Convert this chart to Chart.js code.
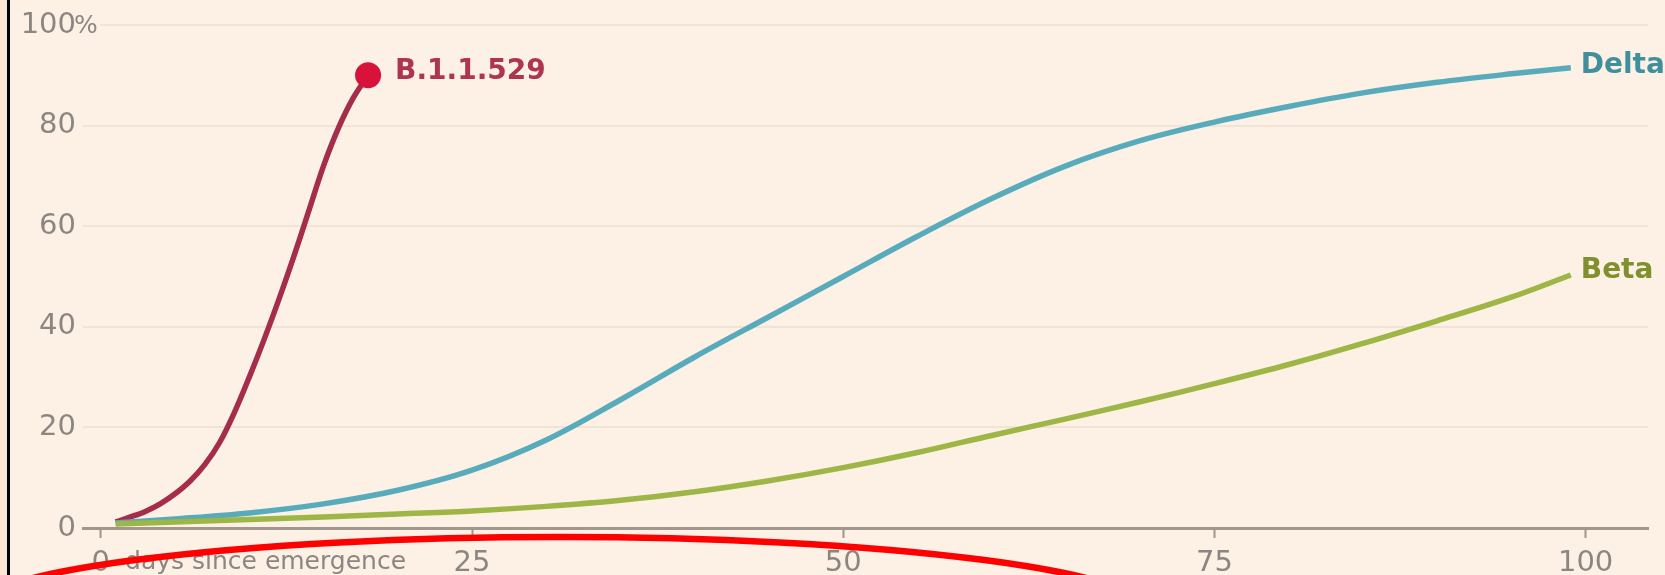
<!DOCTYPE html>
<html>
<head>
<meta charset="utf-8">
<script src="https://cdn.jsdelivr.net/npm/chart.js@4.4.1/dist/chart.umd.min.js"></script>
<style>
  html, body { margin: 0; padding: 0; background: #fbe4d4; }
  #frame {
    position: absolute; left: 7px; top: 0; width: 1658px; height: 575px;
    background: #fdf1e6; border-left: 3px solid #000; box-sizing: border-box;
  }
  #wrap { position: absolute; left: 0; top: 0; width: 1665px; height: 575px; }
</style>
</head>
<body>
<div id="frame"></div>
<div id="wrap"><canvas id="variantChart"></canvas></div>
<script>
// share of sequenced cases (%) by days since emergence
var b11529Days = [1, 2, 3, 4, 5, 6, 7, 8, 9, 10, 11, 12, 13, 14, 15, 16, 17, 18];
var b11529Share = [1.2, 2.2, 3.3, 4.8, 6.8, 9.3, 12.6, 17, 23, 30, 37.5, 45.5, 54, 63, 72, 79.5, 85.5, 90];

var deltaDays = [1, 5, 10, 15, 20, 25, 30, 35, 40, 45, 50, 55, 60, 65, 70, 75, 80, 85, 90, 95, 99];
var deltaShare = [1.0, 1.8, 3.0, 4.8, 7.5, 11.5, 17.5, 25.5, 34, 42, 50, 58, 65.5, 72, 77, 80.7, 83.8, 86.5, 88.6, 90.3, 91.5];

var betaDays = [1, 5, 10, 15, 20, 25, 30, 35, 40, 45, 50, 55, 60, 65, 70, 75, 80, 85, 90, 95, 99];
var betaShare = [0.8, 1.2, 1.7, 2.2, 2.8, 3.4, 4.3, 5.5, 7.2, 9.4, 12, 15, 18.4, 21.7, 25.1, 28.7, 32.5, 36.7, 41.2, 45.9, 50.3];

var xTicks = [0, 25, 50, 75, 100];
var yTicks = [0, 20, 40, 60, 80, 100];

var labelFont = '29px "DejaVu Sans"';
var greyText = '#8c8682';
var bg = '#fdf1e6';

function pts(xs, ys) {
    return xs.map(function (x, i) { return { x: x, y: ys[i] }; });
}

// names at the end of each line
var endLabels = {
    id: 'endLabels',
    afterDatasetsDraw: function (chart) {
        var ctx = chart.ctx;
        ctx.save();
        ctx.font = 'bold 28px "DejaVu Sans"';
        ctx.textAlign = 'left';
        ctx.textBaseline = 'middle';
        chart.data.datasets.forEach(function (ds, i) {
            var meta = chart.getDatasetMeta(i);
            var last = meta.data[meta.data.length - 1];
            ctx.fillStyle = ds.labelColor;
            ctx.fillText(ds.label, last.x + ds.labelDx, last.y + ds.labelDy);
        });
        ctx.restore();
    }
};

var axisExtras = {
    id: 'axisExtras',
    afterDraw: function (chart) {
        var ctx = chart.ctx;
        var xs = chart.scales.x, ys = chart.scales.y;
        var area = chart.chartArea;
        ctx.save();
        // gridline at 100 starts after the % sign
        var y100 = ys.getPixelForValue(100);
        ctx.fillStyle = bg;
        ctx.fillRect(area.left - 1, y100 - 3, 18, 6);
        ctx.fillStyle = greyText;
        ctx.textBaseline = 'middle';
        ctx.textAlign = 'left';
        ctx.font = '25px "DejaVu Sans"';
        ctx.fillText('%', area.left - 9, y100 + 1);
        // x axis caption after the 0
        ctx.font = labelFont;
        var x0 = xs.getPixelForValue(0);
        var w0 = ctx.measureText('0').width;
        ctx.textBaseline = 'top';
        ctx.font = '25px "DejaVu Sans"';
        ctx.fillText('days since emergence', x0 + w0 / 2 + 15, xs.top + 22);
        // red hand-drawn ring on the screenshot
        ctx.beginPath();
        ctx.strokeStyle = '#ff0000';
        ctx.lineWidth = 6.5;
        ctx.ellipse(xs.getPixelForValue(30.9), area.bottom + 87, 598, 78, 0, Math.PI, 2 * Math.PI);
        ctx.stroke();
        ctx.restore();
    }
};

new Chart('variantChart', {
    type: 'line',
    data: {
        datasets: [{
            label: 'Beta',
            data: pts(betaDays, betaShare),
            borderColor: '#9db645',
            labelColor: '#7f902c',
            labelDx: 10, labelDy: -4,
            borderWidth: 5.5,
            pointRadius: 0
        }, {
            label: 'Delta',
            data: pts(deltaDays, deltaShare),
            borderColor: '#58abbb',
            labelColor: '#3f8f9d',
            labelDx: 10, labelDy: -2,
            borderWidth: 5.5,
            pointRadius: 0
        }, {
            label: 'B.1.1.529',
            data: pts(b11529Days, b11529Share),
            borderColor: '#a52d4c',
            labelColor: '#ad3550',
            labelDx: 27, labelDy: -4,
            borderWidth: 5.5,
            pointRadius: function (c) { return c.dataIndex === b11529Days.length - 1 ? 13 : 0; },
            pointBackgroundColor: '#d9123b',
            pointBorderWidth: 0
        }]
    },
    options: {
        responsive: true,
        maintainAspectRatio: false,
        animation: false,
        elements: { line: { tension: 0.35, capBezierPoints: true } },
        layout: { padding: { top: 25, right: 17, bottom: 0, left: 0 } },
        plugins: { legend: { display: false }, tooltip: { enabled: false } },
        scales: {
            x: {
                type: 'linear',
                min: -1.2,
                max: 104.2,
                afterFit: function (s) { s.height = 47; },
                afterBuildTicks: function (s) { s.ticks = xTicks.map(function (v) { return { value: v }; }); },
                ticks: { font: { family: 'DejaVu Sans', size: 29 }, color: greyText, padding: 8, maxRotation: 0 },
                grid: { drawOnChartArea: false, color: '#9c948d', tickLength: 10, tickWidth: 2 },
                border: { color: '#a0978f', width: 3 }
            },
            y: {
                min: 0,
                max: 100,
                afterFit: function (s) { s.width = 83; },
                afterBuildTicks: function (s) { s.ticks = yTicks.map(function (v) { return { value: v }; }); },
                ticks: { font: { family: 'DejaVu Sans', size: 29 }, color: greyText, padding: 7 },
                grid: { color: '#f1e3d6', lineWidth: 2, drawTicks: false },
                border: { display: false }
            }
        }
    },
    plugins: [endLabels, axisExtras]
});
</script>
</body>
</html>
